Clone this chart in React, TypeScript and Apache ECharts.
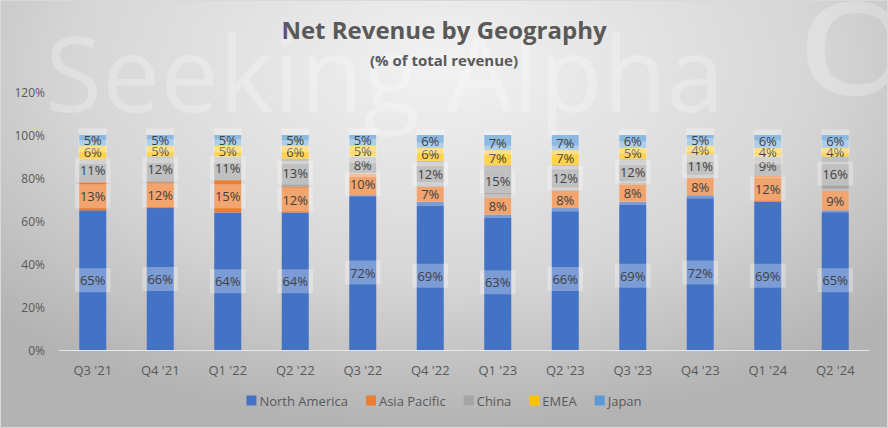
import React, { useEffect, useRef } from "react";
import * as echarts from "echarts";

const categories = ["Q3 '21", "Q4 '21", "Q1 '22", "Q2 '22", "Q3 '22", "Q4 '22", "Q1 '23", "Q2 '23", "Q3 '23", "Q4 '23", "Q1 '24", "Q2 '24"];
const northAmerica = [65, 66, 64, 64, 72, 69, 63, 66, 69, 72, 69, 65];
const asiaPacific = [13, 12, 15, 12, 10, 7, 8, 8, 8, 8, 12, 9];
const china = [11, 12, 11, 13, 8, 12, 15, 12, 12, 11, 9, 16];
const emea = [6, 5, 5, 6, 5, 6, 7, 7, 5, 4, 4, 4];
const japan = [5, 5, 5, 5, 5, 6, 7, 7, 6, 5, 6, 6];

const FONT = "Open Sans";

export default function App() {
  const ref = useRef<HTMLDivElement>(null);
  useEffect(() => {
    document.body.style.margin = "0";
    if (!ref.current) return;
    const chart = echarts.init(ref.current, undefined, { renderer: "svg" });
    const seriesDefs = [
      { name: "North America", data: northAmerica, color: "#4472C4" },
      { name: "Asia Pacific", data: asiaPacific, color: "#ED7D31" },
      { name: "China", data: china, color: "#A5A5A5" },
      { name: "EMEA", data: emea, color: "#FFC000" },
      { name: "Japan", data: japan, color: "#5B9BD5" },
    ];
    chart.setOption({
      animation: false,
      textStyle: { fontFamily: FONT },
      title: [
        {
          text: "Net Revenue by Geography",
          left: "center",
          top: 11,
          textStyle: { fontFamily: FONT, fontSize: 24, fontWeight: "bold", color: "#595959" },
        },
        {
          text: "(% of total revenue)",
          left: "center",
          top: 46,
          textStyle: { fontFamily: FONT, fontSize: 15, fontWeight: "bold", color: "#595959" },
        },
      ],
      graphic: [
        {
          type: "text",
          x: 44,
          y: 18,
          z: -10,
          silent: true,
          style: {
            text: "Seeking Alpha",
            fontSize: 104,
            fontFamily: FONT,
            fill: "rgba(255,255,255,0.25)",
            verticalAlign: "top",
          },
        },
        {
          type: "text",
          x: 794,
          y: -58,
          scaleX: 1.25,
          z: -10,
          silent: true,
          style: {
            text: "α",
            fontSize: 170,
            fontFamily: FONT,
            fill: "rgba(255,255,255,0.25)",
            verticalAlign: "top",
          },
        },
      ],
      legend: {
        bottom: 15,
        left: "center",
        itemWidth: 10,
        itemHeight: 10,
        itemGap: 18,
        icon: "rect",
        textStyle: { fontFamily: FONT, fontSize: 13, color: "#595959", padding: [0, 0, 0, -2] },
        data: seriesDefs.map((s) => s.name),
      },
      grid: { left: 58, right: 18, top: 91, bottom: 77 },
      xAxis: {
        type: "category",
        data: categories,
        axisLine: { lineStyle: { color: "#e6e6e6", width: 1 } },
        axisTick: { show: false },
        axisLabel: { color: "#595959", fontSize: 13, fontFamily: FONT, margin: 13 },
      },
      yAxis: {
        type: "value",
        min: 0,
        max: 120,
        interval: 20,
        axisLine: { show: false },
        axisTick: { show: false },
        splitLine: { show: false },
        axisLabel: { color: "#595959", fontSize: 12, fontFamily: FONT, margin: 14, formatter: "{value}%" },
      },
      series: seriesDefs.map((s) => ({
        name: s.name,
        type: "bar",
        stack: "total",
        barWidth: 27,
        data: s.data,
        itemStyle: { color: s.color },
        z: 3,
        label: {
          show: true,
          position: "inside",
          formatter: "{c}%",
          color: "#404040",
          fontSize: 13,
          fontFamily: FONT,
          lineHeight: 14,
          backgroundColor: "rgba(255,255,255,0.3)",
          padding: [5, 5],
        },
      })),
    });
    return () => chart.dispose();
  }, []);
  return (
    <div
      ref={ref}
      style={{
        width: 888,
        height: 428,
        background: "radial-gradient(ellipse 70% 85% at 50% 15%, #f2f2f2 0%, #d6d6d6 60%, #b3b3b3 100%)",
        boxSizing: "border-box",
        border: "1px solid #d9d9d9",
      }}
    />
  );
}
